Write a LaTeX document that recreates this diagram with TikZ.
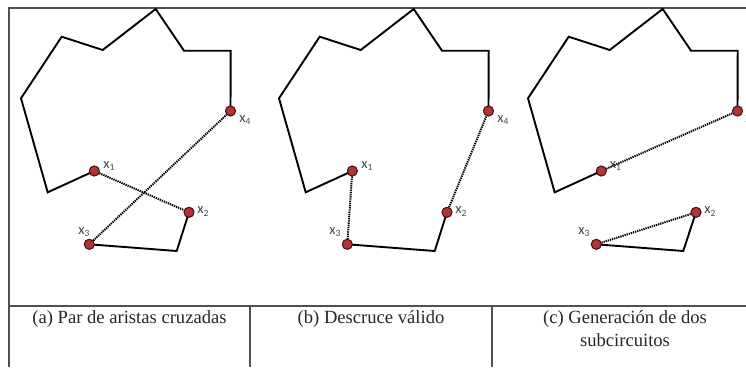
\documentclass[tikz,border=0pt]{standalone}
\usepackage{fontspec}
\setmainfont{Liberation Serif}
\newfontfamily\lblfont{Carlito}
\definecolor{ptfill}{RGB}{178,52,52}
\definecolor{ptdraw}{RGB}{70,20,20}
\definecolor{framecol}{RGB}{80,80,80}
\definecolor{lblcol}{RGB}{70,70,70}
\newcommand{\xl}[1]{x\raisebox{-2.5pt}{\fontsize{9.5}{9.5}\selectfont #1}}
\begin{document}
\begin{tikzpicture}[x=1pt,y=-1pt,
  ptnode/.style={circle,fill=ptfill,draw=ptdraw,line width=0.9pt,minimum size=10pt,inner sep=0pt},
  lbl/.style={text=lblcol,font=\lblfont\fontsize{14.5}{14.5}\selectfont,inner sep=0pt},
  tour/.style={line width=1.9pt,line join=miter},
  swapline/.style={line width=2pt,dash pattern=on 1.3pt off 0.9pt},
  framestyle/.style={draw=framecol,line width=1.5pt},
  captxt/.style={font=\fontsize{18.6}{23}\selectfont,align=center,inner sep=0pt,text=black!85}]
\useasboundingbox (0,0) rectangle (746,367);
% frame and table
\draw[framestyle] (9,367) -- (9,8) -- (746,8);
\draw[framestyle] (9,306) -- (746,306);
\draw[framestyle] (250,306) -- (250,367);
\draw[framestyle] (492,306) -- (492,367);
% ---------- panel (a) ----------
\coordinate (aA) at (47.7,192.3);
\coordinate (aB) at (21,98.3);
\coordinate (aC) at (61.7,36.7);
\coordinate (aD) at (102.7,50);
\coordinate (aE) at (155.7,9);
\coordinate (aF) at (184,50.7);
\coordinate (aG) at (230.7,50.7);
\coordinate (aH) at (176.7,251);
\node[ptnode] (a1) at (94.3,171) {};
\node[ptnode] (a2) at (189,212.3) {};
\node[ptnode] (a3) at (89.3,244.3) {};
\node[ptnode] (a4) at (230.5,111) {};
\draw[tour] (a1.center) -- (aA) -- (aB) -- (aC) -- (aD) -- (aE) -- (aF) -- (aG) -- (a4.center);
\draw[tour] (a3.center) -- (aH) -- (a2.center);
\draw[swapline] (a1) -- (a2);
\draw[swapline] (a3) -- (a4);
\foreach \n in {a1,a2,a3,a4} \node[ptnode] at (\n) {};
\node[lbl] (a1l) at (109,166) {\xl{1}};
\node[lbl] (a2l) at (203,211.5) {\xl{2}};
\node[lbl] (a3l) at (84,232) {\xl{3}};
\node[lbl] (a4l) at (245,120) {\xl{4}};
% ---------- panel (b) ----------
\coordinate (bA) at (305.7,192.3);
\coordinate (bB) at (279,98.3);
\coordinate (bC) at (319.7,36.7);
\coordinate (bD) at (360.7,50);
\coordinate (bE) at (413.7,9);
\coordinate (bF) at (442,50.7);
\coordinate (bG) at (488.7,50.7);
\coordinate (bH) at (434.7,251);
\node[ptnode] (b1) at (352.3,171) {};
\node[ptnode] (b2) at (447,212.3) {};
\node[ptnode] (b3) at (347.3,244.3) {};
\node[ptnode] (b4) at (488.5,111) {};
\draw[tour] (b1.center) -- (bA) -- (bB) -- (bC) -- (bD) -- (bE) -- (bF) -- (bG) -- (b4.center);
\draw[tour] (b3.center) -- (bH) -- (b2.center);
\draw[swapline] (b1) -- (b3);
\draw[swapline] (b2) -- (b4);
\foreach \n in {b1,b2,b3,b4} \node[ptnode] at (\n) {};
\node[lbl] (b1l) at (367,166) {\xl{1}};
\node[lbl] (b2l) at (461,211.5) {\xl{2}};
\node[lbl] (b3l) at (335,232) {\xl{3}};
\node[lbl] (b4l) at (503,120) {\xl{4}};
% ---------- panel (c) ----------
\coordinate (cA) at (554.7,192.3);
\coordinate (cB) at (528,98.3);
\coordinate (cC) at (568.7,36.7);
\coordinate (cD) at (609.7,50);
\coordinate (cE) at (662.7,9);
\coordinate (cF) at (691,50.7);
\coordinate (cG) at (737.7,50.7);
\coordinate (cH) at (683.2,251);
\node[ptnode] (c1) at (601.3,171) {};
\node[ptnode] (c2) at (696,212.3) {};
\node[ptnode] (c3) at (596.3,244.3) {};
\node[ptnode] (c4) at (737.5,111) {};
\draw[tour] (c1.center) -- (cA) -- (cB) -- (cC) -- (cD) -- (cE) -- (cF) -- (cG) -- (c4.center);
\draw[tour] (c3.center) -- (cH) -- (c2.center);
\draw[swapline] (c1) -- (c4);
\draw[swapline] (c3) -- (c2);
\foreach \n in {c1,c2,c3,c4} \node[ptnode] at (\n) {};
\node[lbl] (c1l) at (615.5,166) {\xl{1}};
\node[lbl] (c2l) at (710,211.5) {\xl{2}};
\node[lbl] (c3l) at (584,232) {\xl{3}};
\node[lbl] (c4l) at (751,120) {\xl{4}};
% ---------- captions ----------
\node[captxt,anchor=north] (capa) at (129.5,310) {(a) Par de aristas cruzadas};
\node[captxt,anchor=north] (capb) at (371,310) {(b) Descruce válido};
\node[captxt,anchor=north] (capc) at (625,310) {(c) Generación de dos\\subcircuitos};
\end{tikzpicture}
\end{document}
